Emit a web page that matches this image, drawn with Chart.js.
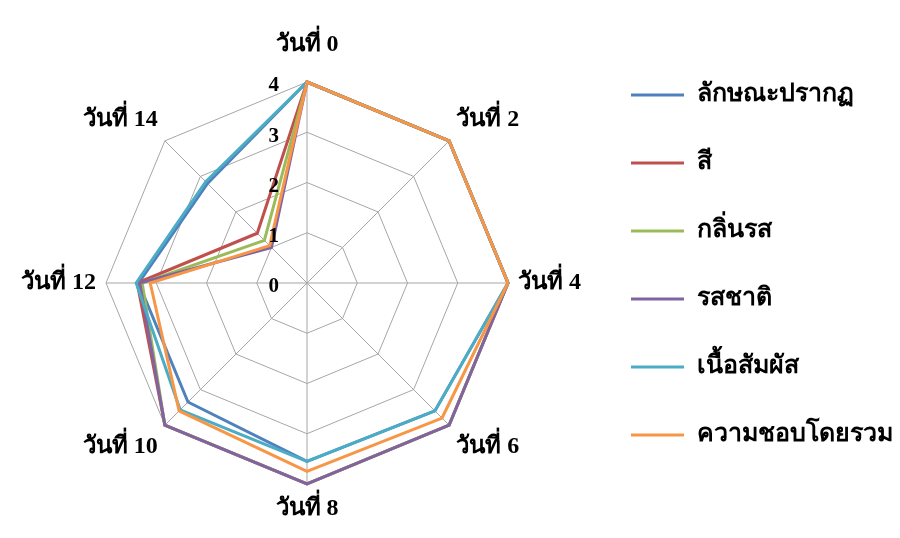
<!DOCTYPE html>
<html>
<head>
<meta charset="utf-8">
<script src="https://cdn.jsdelivr.net/npm/chart.js@4.4.0/dist/chart.umd.min.js"></script>
<style>
  body { margin: 0; background: #ffffff; }
  #wrap { width: 900px; height: 538px; }
</style>
</head>
<body>
<div id="wrap"><canvas id="radarChart"></canvas></div>
<script>
// Days on the spokes
const days = ["วันที่ 0", "วันที่ 2", "วันที่ 4", "วันที่ 6", "วันที่ 8", "วันที่ 10", "วันที่ 12", "วันที่ 14"];
const tickValues = [0, 1, 2, 3, 4];

// Scores per attribute
const appearance = [4, 4, 4, 3.6, 3.55, 3.35, 3.35, 2.8];
const colour = [4, 4, 4, 4, 4, 4, 3.38, 1.4];
const aroma = [4, 4, 4, 4, 4, 4, 3.28, 1.2];
const taste = [4, 4, 4, 4, 4, 4, 3.33, 1.0];
const texture = [4, 4, 4, 3.6, 3.55, 3.57, 3.4, 2.85];
const overall = [4, 4, 4, 3.8, 3.75, 3.6, 3.12, 1.05];

const serif = "'Liberation Serif', 'Norasi', 'Tlwg Typo', 'Times New Roman', serif";

// Draws the 0-4 labels just left of the vertical spoke
const tickLabels = {
  id: "tickLabels",
  afterDatasetsDraw(chart) {
    const scale = chart.scales.r;
    const ctx = chart.ctx;
    ctx.save();
    ctx.font = "bold 21px " + serif;
    ctx.fillStyle = "#000000";
    ctx.textAlign = "right";
    ctx.textBaseline = "middle";
    tickValues.forEach((v) => {
      const d = scale.getDistanceFromCenterForValue(v);
      ctx.fillText(String(v), scale.xCenter - 28, scale.yCenter - d + 4);
    });
    ctx.restore();
  },
};

// order: last series is painted on top, like the original
function series(label, data, color, order) {
  return {
    label: label,
    data: data,
    borderColor: color,
    backgroundColor: color,
    borderWidth: 3,
    pointRadius: 0,
    fill: false,
    order: order,
  };
}

new Chart(document.getElementById("radarChart"), {
  type: "radar",
  data: {
    labels: days,
    datasets: [
      series("ลักษณะปรากฏ", appearance, "#4F81BD", 6),
      series("สี", colour, "#C0504D", 5),
      series("กลิ่นรส", aroma, "#9BBB59", 4),
      series("รสชาติ", taste, "#8064A2", 3),
      series("เนื้อสัมผัส", texture, "#4BACC6", 2),
      series("ความชอบโดยรวม", overall, "#F79646", 1),
    ],
  },
  options: {
    responsive: true,
    maintainAspectRatio: false,
    animation: false,
    layout: { padding: { top: 0, bottom: 8, left: 14, right: 0 } },
    elements: { line: { tension: 0 } },
    scales: {
      r: {
        min: 0,
        max: 4,
        ticks: { stepSize: 1, display: false },
        grid: { color: "#a6a6a6", lineWidth: 1 },
        angleLines: { color: "#a6a6a6", lineWidth: 1 },
        pointLabels: {
          color: "#000000",
          padding: (ctx) => (ctx.index === 0 ? 23 : 10),
          font: { family: serif, size: 24, weight: "bold" },
        },
      },
    },
    plugins: {
      tooltip: { enabled: false },
      // empty spacer above the plot only (legend keeps full height)
      title: {
        display: true,
        text: "",
        fullSize: false,
        font: { size: 1 },
        padding: { top: 23, bottom: 0 },
      },
      legend: {
        position: "right",
        maxWidth: 312,
        labels: {
          color: "#000000",
          usePointStyle: true,
          pointStyle: "line",
          pointStyleWidth: 53,
          padding: 43,
          font: { family: serif, size: 25, weight: "bold" },
          sort: (a, b) => a.datasetIndex - b.datasetIndex,
        },
      },
    },
  },
  plugins: [tickLabels],
});
</script>
</body>
</html>
